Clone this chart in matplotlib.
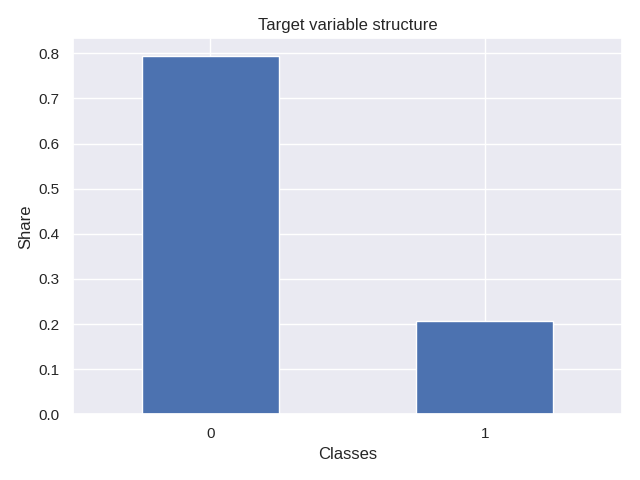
import pandas as pd
import matplotlib
matplotlib.use('Agg')
import matplotlib.pyplot as plt
import seaborn as sns

classes = [0, 1]
shares = [0.7935, 0.2065]

sns.set_theme()
plt.rcParams['font.family'] = ['Liberation Sans', 'DejaVu Sans']

s = pd.Series(shares, index=classes)
ax = s.plot(kind='bar', rot=0)
ax.set_title('Target variable structure')
ax.set_xlabel('Classes')
ax.set_ylabel('Share')
plt.tight_layout()
plt.savefig('out.png', dpi=100)
